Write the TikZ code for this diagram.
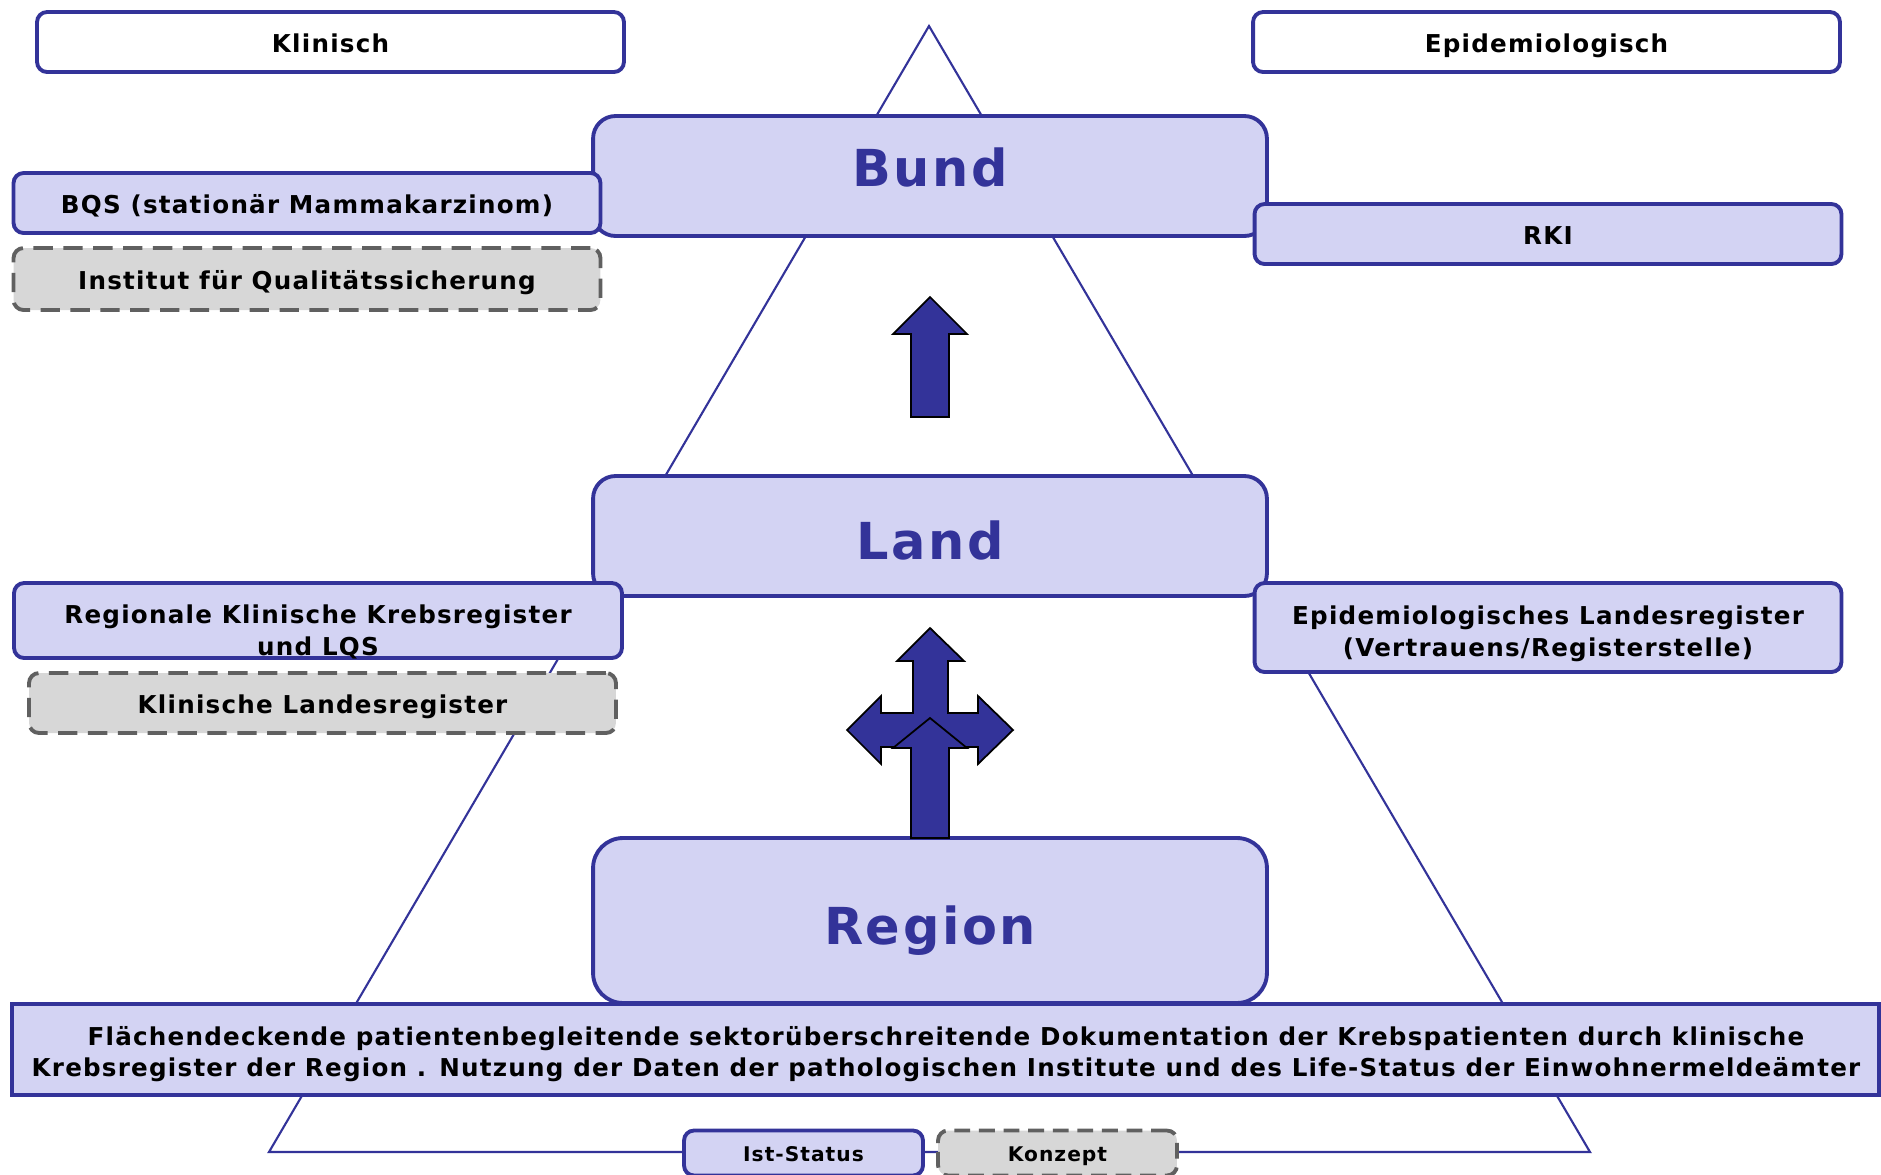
\documentclass[tikz,border=0pt]{standalone}
\usepackage{fontspec}
\setmainfont{DejaVu Sans}[LetterSpace=5]
\usepackage{tikz}
\usepackage{xcolor}
\definecolor{levelc}{HTML}{333399}
\definecolor{levelfill}{HTML}{D3D3F3}
\definecolor{conceptc}{HTML}{606060}
\definecolor{conceptfill}{HTML}{D7D7D7}
\tikzset{
  pyramid/.style={draw=levelc, line width=1.2pt, line join=miter},
  levelbox/.style={draw=levelc, fill=levelfill, line width=2.2pt, rounded corners=0.45cm, minimum width=13.48cm, minimum height=2.4cm, text height=27pt, text depth=0pt, text=levelc, font=\fontsize{29}{34}\selectfont\bfseries},
  headbox/.style={draw=levelc, fill=white, line width=2.2pt, rounded corners=0.2cm, minimum width=11.74cm, minimum height=1.2cm, text height=12pt, text depth=0pt, font=\fontsize{14}{18}\selectfont\bfseries},
  statusbox/.style={headbox, fill=levelfill},
  conceptbox/.style={headbox, draw=conceptc, fill=conceptfill, dash pattern=on 11pt off 6pt},
  bandbox/.style={draw=levelc, fill=levelfill, line width=2.6pt, minimum width=37.34cm, minimum height=1.82cm},
  boxtext/.style={align=center, font=\fontsize{14}{18}\selectfont\bfseries},
  legendbox/.style={headbox, minimum width=4.78cm, minimum height=0.9cm, text height=10pt, font=\fontsize{11.5}{14}\selectfont\bfseries},
  upblock/.style={fill=levelc, draw=black, line width=1pt, line join=miter},
}

\begin{document}
\begin{tikzpicture}[x=0.02cm, y=-0.02cm]
\useasboundingbox (0,0) rectangle (1881,1174);
% pyramid behind everything
\coordinate (apex) at (929,26);
\coordinate (baseL) at (269,1152);
\coordinate (baseR) at (1590,1152);
\draw[pyramid] (apex) -- (baseL) -- (baseR) -- cycle;
% column heads
\node[headbox] (klinisch) at (330.5,42) {Klinisch};
\node[headbox] (epidem) at (1546.5,42) {Epidemiologisch};
% levels
\node[levelbox, text height=12pt] (bund) at (930,176) {Bund};
\node[levelbox] (land) at (930,536) {Land};
\node[levelbox, minimum height=3.3cm, rounded corners=0.6cm] (region) at (930,920.5) {Region};
% federal level
\node[statusbox] (bqs) at (307,203) {BQS (stationär Mammakarzinom)};
\node[conceptbox, minimum height=1.24cm] (iqs) at (307,279) {Institut für Qualitätssicherung};
\node[statusbox] (rki) at (1548,234) {RKI};
% state level
\node[statusbox, minimum width=12.16cm, minimum height=1.5cm] (regkl) at (318,620.5) {};
\node[boxtext] (regkltxt) at (318,632) {Regionale Klinische Krebsregister\\und LQS};
\node[conceptbox] (klinland) at (322.5,703) {Klinische Landesregister};
\node[statusbox, minimum height=1.78cm] (epiland) at (1548,627.5) {};
\node[boxtext] (epilandtxt) at (1548,634) {Epidemiologisches Landesregister\\(Vertrauens/Registerstelle)};
% arrows
\draw[upblock] (911,417) -- (911,334) -- (893,334) -- (930,297) -- (967,334) -- (949,334) -- (949,417) -- cycle;
\draw[upblock] (913,713) -- (913,661) -- (897,661) -- (930,628) -- (964,661) -- (948,661) -- (948,713)
  -- (978,713) -- (978,696) -- (1013,730) -- (978,764) -- (978,747) -- (948,747)
  -- (913,747) -- (881,747) -- (881,764) -- (847,730) -- (881,696) -- (881,713) -- cycle;
\draw[upblock] (911,838) -- (911,748) -- (893,748) -- (930,718) -- (967,748) -- (949,748) -- (949,838) -- cycle;
% region band
\node[bandbox] (flaeche) at (945.5,1049.5) {};
\node[boxtext] (flaechetxt) at (946,1054) {Flächendeckende patientenbegleitende sektorüberschreitende Dokumentation der Krebspatienten durch klinische\\Krebsregister der Region . Nutzung der Daten der pathologischen Institute und des Life-Status der Einwohnermeldeämter};
% legend
\node[legendbox, fill=levelfill] (ist) at (803.5,1153) {Ist-Status};
\node[legendbox, draw=conceptc, fill=conceptfill, dash pattern=on 9pt off 5pt] (konzept) at (1057.5,1153) {Konzept};
\end{tikzpicture}
\end{document}
